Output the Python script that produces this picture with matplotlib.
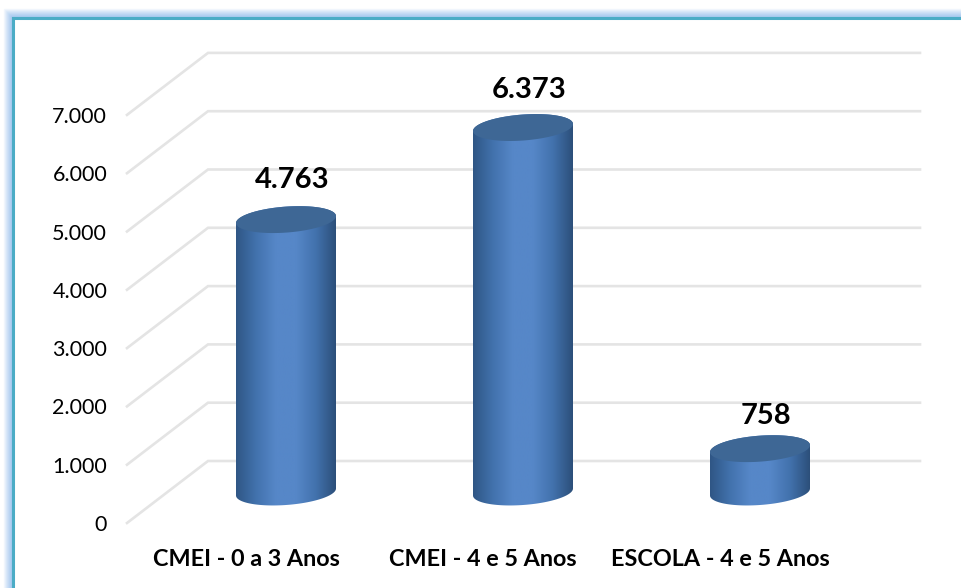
import numpy as np
import matplotlib
matplotlib.use('Agg')
import matplotlib.pyplot as plt
from matplotlib.colors import LinearSegmentedColormap, to_rgb
from matplotlib.patches import PathPatch
from matplotlib.path import Path

plt.rcParams['font.family'] = ['Lato', 'DejaVu Sans']

# data
categories = ['CMEI - 0 a 3 Anos', 'CMEI - 4 e 5 Anos', 'ESCOLA - 4 e 5 Anos']
values = [4763, 6373, 758]
value_labels = ['4.763', '6.373', '758']
y_ticks = [0, 1000, 2000, 3000, 4000, 5000, 6000, 7000]
y_tick_labels = ['0', '1.000', '2.000', '3.000', '4.000', '5.000', '6.000', '7.000']

W, H = 961, 588
fig = plt.figure(figsize=(W / 100, H / 100), dpi=100)
fig.patch.set_facecolor('white')

# plot area in pixels, the rest is fake 3d depth
left, right, bottom, top = 127, 920, 523, 53
ax = fig.add_axes([left / W, 1 - bottom / H, (right - left) / W, (bottom - top) / H])
px_per_val = 58.3 / 1000
px_per_cat = 237.0
ax.set_xlim((left - 286) / px_per_cat, (right - 286) / px_per_cat)
ax.set_ylim(0, (bottom - top) / px_per_val)
for s in ax.spines.values():
    s.set_visible(False)
ax.patch.set_alpha(0)


def dx(px):
    return px / px_per_cat


def dy(px):
    return px / px_per_val


# gridlines: slanted side wall then back wall
x0 = ax.get_xlim()[0]
x1 = ax.get_xlim()[1]
for v in y_ticks:
    ax.plot([x0, x0 + dx(81), x1], [v, v + dy(62), v + dy(62)], color='#e4e4e4', lw=1.9, zorder=1,
            solid_joinstyle='miter', clip_on=False)

ax.set_yticks(y_ticks)
ax.set_yticklabels(y_tick_labels, fontsize=15.5, color='black')
ax.tick_params(axis='y', length=0, pad=14.3)
# category labels sit on the front edge, left of the bars
ax.set_xticks([i - dx(40) for i in range(len(categories))])
ax.set_xticklabels(categories, fontsize=16.8, fontweight='bold', color='black')
ax.tick_params(axis='x', length=0, pad=19)

cyl_cmap = LinearSegmentedColormap.from_list('cyl', ['#2f5685', '#4272ad', '#5687c8', '#5687c8', '#4272ad', '#2c4f7a'])
grad = np.linspace(0, 1, 256).reshape(1, -1)

a = dx(50)
b = dy(13)
s = dy(3.5)
base = dy(31)
bar_scale = 0.981  # bars stand deeper than the front edge
label_gap = [40, 38, 33]  # label height above the bar top, px
t_top = np.linspace(0, 2 * np.pi, 120)

for i, v in enumerate(values):
    h = v * bar_scale
    # bottom half of the ellipse, then up and back across the top ellipse
    t = np.linspace(np.pi, 2 * np.pi, 60)
    xb = i + a * np.cos(t)
    yb = base + s * np.cos(t) + b * np.sin(t)
    t2 = np.linspace(0, np.pi, 60)
    xt = i + a * np.cos(t2)
    yt = base + h + s * np.cos(t2) + b * np.sin(t2)
    body = np.column_stack([np.r_[xb, xt], np.r_[yb, yt]])
    patch = PathPatch(Path(np.vstack([body, body[0]]), closed=True), fc='none', ec='none', transform=ax.transData)
    ax.add_patch(patch)
    im = ax.imshow(grad, extent=[i - a, i + a, base - b - s, base + h + b + s], cmap=cyl_cmap,
                   aspect='auto', zorder=3, interpolation='bilinear')
    im.set_clip_path(patch)
    cap_x = i + a * np.cos(t_top)
    cap_y = base + h + s * np.cos(t_top) + b * np.sin(t_top)
    ax.fill(cap_x, cap_y, color='#3e6795', zorder=4, lw=0)
    ax.text(i + dx(6), base + h + dy(label_gap[i]), value_labels[i], ha='center', va='center', fontsize=21,
            fontweight='bold', color='black', zorder=5)

# imshow resets the limits
ax.set_xlim(x0, x1)
ax.set_ylim(0, (bottom - top) / px_per_val)

# frame, cut off by the right and bottom of the picture; glow only on the outside
fx, fy = 13, 17.5
glow = np.array(to_rgb('#9fc4ee'))
for k in range(10, 0, -1):
    c = glow + (1 - glow) * (k / 10.0) ** 1.3
    fig.add_artist(plt.Line2D([(fx - k) / W, (fx - k) / W, 1], [0, 1 - (fy - k) / H, 1 - (fy - k) / H],
                              color=c, lw=1.0, solid_joinstyle='miter'))
fig.add_artist(plt.Line2D([fx / W, fx / W, 1], [0, 1 - fy / H, 1 - fy / H], color='#4bacc6', lw=2.2,
                          solid_joinstyle='miter'))

fig.savefig('out.png', dpi=100)
